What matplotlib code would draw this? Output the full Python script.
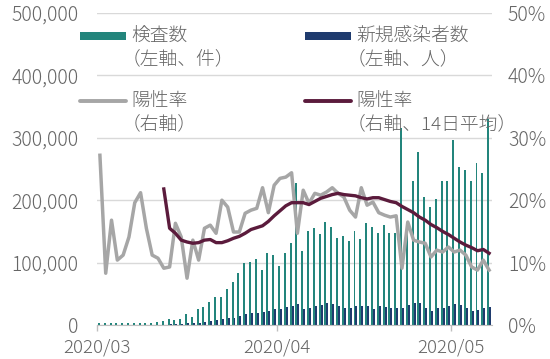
import matplotlib
matplotlib.use("Agg")
import matplotlib.pyplot as plt
import numpy as np
from matplotlib.patches import Rectangle
from matplotlib.lines import Line2D
from matplotlib.ticker import FuncFormatter

plt.rcParams['font.family'] = ['Noto Sans CJK JP', 'DejaVu Sans']
plt.rcParams['font.weight'] = 'light'

# ---- data (daily, 2020/03/01 - 2020/05/07) ----
dates = np.arange('2020-03-01', '2020-05-08', dtype='datetime64[D]')

tests = [3000, 3500, 3000, 3500, 3000, 3500, 3000, 3500, 3500, 4000,
         5000, 6000, 9500, 8000, 10000, 17500, 13000, 25500, 29000, 37000,
         45000, 45000, 57500, 69000, 83000, 99000, 101000, 106000, 88000, 116000,
         112000, 94000, 116000, 131000, 228000, 118000, 151000, 155000, 146000, 165000,
         157000, 139000, 143000, 135000, 150000, 138000, 163000, 157000, 148000, 160000,
         148000, 147000, 315000, 163000, 231000, 277000, 205000, 189000, 202000, 231000,
         231000, 297000, 253000, 248000, 231000, 260000, 244000, 330000]

cases = [100, 100, 150, 200, 250, 300, 400, 500, 550, 600,
         700, 800, 1000, 1500, 2000, 2500, 3000, 4000, 5000, 6000,
         8000, 9000, 11000, 12000, 14000, 17000, 19000, 20000, 21000, 23000,
         26000, 26000, 29000, 31000, 34000, 26000, 27000, 31000, 32000, 35000,
         34000, 30000, 27000, 28000, 30000, 31000, 30000, 25000, 30000, 29000,
         28000, 27000, 28000, 32000, 35000, 36000, 28000, 22000, 27000, 27000,
         30000, 33000, 32000, 27000, 22000, 24000, 28000, 29000]

pos_rate = [27.2, 8.3, 16.8, 10.4, 11.2, 14.1, 19.6, 21.2, 15.5, 11.2,
            10.7, 9.1, 9.3, 16.3, 14.1, 7.5, 13.6, 10.4, 15.5, 16.0,
            14.7, 20.0, 18.9, 14.9, 14.9, 17.9, 18.4, 18.7, 22.0, 18.0,
            22.4, 23.5, 23.7, 24.4, 14.7, 21.6, 19.5, 21.1, 20.8, 21.3,
            22.0, 21.1, 20.5, 18.4, 17.3, 22.0, 19.2, 19.7, 18.0, 17.6,
            17.3, 17.5, 9.1, 16.5, 13.6, 13.3, 13.1, 10.9, 12.0, 11.7,
            12.5, 11.7, 12.0, 11.2, 9.3, 8.8, 10.4, 8.8]

pos_rate_14d = [np.nan] * 11 + [
            21.8, 15.5, 14.7, 13.6, 13.3, 13.1, 13.2, 13.6, 13.7,
            13.2, 13.2, 13.5, 13.9, 14.2, 14.7, 15.3, 15.6, 15.9, 16.6,
            17.5, 18.3, 19.1, 19.6, 19.6, 19.6, 19.3, 19.8, 20.3, 20.6,
            20.9, 21.1, 20.9, 20.8, 20.7, 20.4, 20.2, 20.4, 20.4, 20.1,
            19.8, 19.6, 19.0, 18.5, 18.0, 17.3, 16.8, 16.1, 15.6, 15.0,
            14.5, 13.9, 13.3, 12.8, 12.4, 11.9, 12.1, 11.5]

month_labels = ['2020/03', '2020/04', '2020/05']

legend_labels = ['検査数\n（左軸、件）', '新規感染者数\n（左軸、人）',
                 '陽性率\n（右軸）', '陽性率\n（右軸、14日平均）']

# ---- style ----
C_TEST = '#23857C'
C_CASE = '#1F3B6E'
C_RATE = '#A6A6A6'
C_AVG = '#5B1B3C'
C_TXT = '#666666'
C_GRID = '#D9D9D9'

W, H = 550, 359
fig = plt.figure(figsize=(W / 100, H / 100), dpi=100)
ax = fig.add_axes([97 / W, 1 - 325 / H, (492 - 97) / W, (325 - 13) / H])
ax2 = ax.twinx()

x = np.arange(len(dates))
bw = 0.34
ax.bar(x - bw / 2, tests, width=bw, color=C_TEST, zorder=2, linewidth=0)
ax.bar(x + bw / 2, cases, width=bw, color=C_CASE, zorder=2, linewidth=0)

ax2.plot(x, pos_rate, color=C_RATE, lw=2.5, zorder=3, solid_joinstyle='round')
ax2.plot(x, pos_rate_14d, color=C_AVG, lw=2.4, zorder=4, solid_joinstyle='round')

ax.set_xlim(-0.5, len(dates) - 0.5)
ax.set_ylim(0, 500000)
ax2.set_ylim(0, 50)
ax.set_yticks(np.arange(0, 500001, 100000))
ax2.set_yticks(np.arange(0, 51, 10))
ax.yaxis.set_major_formatter(FuncFormatter(lambda v, p: f'{int(v):,}'))
ax2.yaxis.set_major_formatter(FuncFormatter(lambda v, p: f'{int(v)}%'))

# month ticks at month boundaries
month_starts = [i for i, d in enumerate(dates) if str(d).endswith('-01')]
ax.set_xticks([i - 0.5 for i in month_starts])
ax.set_xticklabels(month_labels)

ax.grid(axis='y', color=C_GRID, lw=1.0, zorder=0)
ax.set_axisbelow(True)
for a in (ax, ax2):
    for s in ('top', 'left', 'right'):
        a.spines[s].set_visible(False)
ax2.spines['bottom'].set_visible(False)
ax.spines['bottom'].set_color('#BFBFBF')
ax.tick_params(axis='x', colors='#BFBFBF', length=4, width=1, labelcolor=C_TXT,
               labelsize=13.5, pad=5.5)
ax.tick_params(axis='y', length=0, labelcolor=C_TXT, labelsize=14, pad=13.5)
ax2.tick_params(axis='y', length=0, labelcolor=C_TXT, labelsize=14, pad=11.5)

# ---- legend (manual layout) ----
def fx(px):
    return px / W

def fy(py):
    return 1 - py / H

handles = [('patch', C_TEST, 80, 36), ('patch', C_CASE, 305, 36),
           ('line', C_RATE, 80, 101), ('line', C_AVG, 305, 101)]
for (kind, col, hx, hy), lab in zip(handles, legend_labels):
    if kind == 'patch':
        fig.add_artist(Rectangle((fx(hx), fy(hy + 4)), fx(46), 8 / H,
                                 transform=fig.transFigure, color=col, lw=0))
    else:
        fig.add_artist(Line2D([fx(hx), fx(hx + 46)], [fy(hy), fy(hy)],
                              transform=fig.transFigure, color=col, lw=2.8,
                              solid_capstyle='round'))
    l1, l2 = lab.split('\n')
    fig.text(fx(hx + 51), fy(hy), l1, ha='left', va='center',
             fontsize=13.5, color=C_TXT)
    fig.text(fx(hx + 42), fy(hy + 23), l2, ha='left', va='center',
             fontsize=13.5, color=C_TXT)

fig.savefig('out.png', dpi=100)
